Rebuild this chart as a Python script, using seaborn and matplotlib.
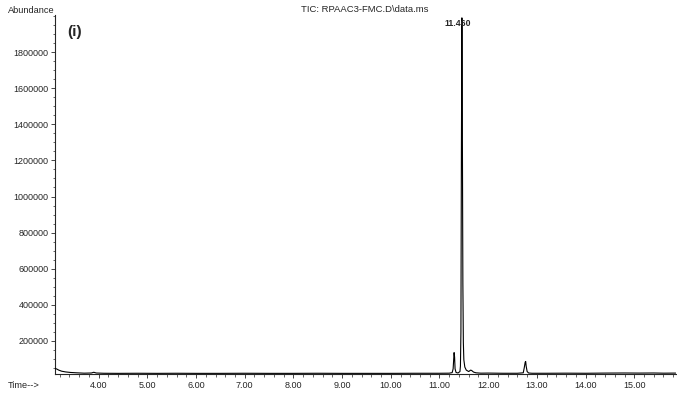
import matplotlib
matplotlib.use("Agg")
import matplotlib.pyplot as plt
import seaborn as sns
import pandas as pd
from matplotlib.ticker import MultipleLocator, FormatStrFormatter

# Retention time (min) and abundance
time = [3.10, 3.14, 3.18, 3.24, 3.32, 3.42, 3.55, 3.70, 3.85, 3.90, 3.95, 4.10,
        4.40, 4.80, 5.20, 5.60, 6.00, 6.50, 7.00, 7.50, 8.00, 8.50, 9.00, 9.50,
        10.00, 10.50, 11.00, 11.20, 11.26, 11.28, 11.30, 11.31, 11.32, 11.34,
        11.38, 11.42, 11.43, 11.44, 11.45, 11.46, 11.47, 11.48, 11.49, 11.50,
        11.52, 11.55, 11.60, 11.64, 11.66, 11.70, 11.75, 11.85, 12.00, 12.30,
        12.60, 12.72, 12.74, 12.76, 12.77, 12.78, 12.80, 12.83, 12.90, 13.20,
        13.60, 14.00, 14.40, 14.80, 15.10, 15.40, 15.60, 15.85]
abundance = [48000, 44000, 38000, 32000, 28000, 25000, 23000, 21000, 22000, 26000, 22000, 20500,
             20000, 20500, 20000, 20500, 20000, 20000, 20500, 20000, 20000, 20500, 20000, 20000,
             20000, 20500, 20500, 21000, 24000, 45000, 135000, 110000, 45000, 25000,
             22000, 30000, 60000, 250000, 1250000, 1990000, 1350000, 520000, 190000, 95000,
             55000, 38000, 30000, 38000, 36000, 27000, 23000, 21000, 21500, 20500,
             20500, 23000, 50000, 82000, 86000, 60000, 30000, 22000, 20500, 20500,
             21000, 20500, 21500, 22000, 21500, 22000, 21000, 21500]

y_ticks = [200000, 400000, 600000, 800000, 1000000, 1200000, 1400000, 1600000, 1800000]
x_ticks = [4, 5, 6, 7, 8, 9, 10, 11, 12, 13, 14, 15]

df = pd.DataFrame({"time": time, "abundance": abundance})

sns.set_style("ticks")
plt.rcParams["font.family"] = ["Liberation Sans", "DejaVu Sans"]

fig = plt.figure(figsize=(6.77, 3.99), dpi=100)
ax = fig.add_axes([0.081, 0.062, 0.917, 0.900])

sns.lineplot(data=df, x="time", y="abundance", ax=ax, color="black",
             linewidth=0.8, estimator=None, sort=False, zorder=3)

ax.set_xlim(3.1, 15.85)
ax.set_ylim(15000, 2005000)
ax.set_xticks(x_ticks)
ax.set_yticks(y_ticks)
ax.xaxis.set_major_formatter(FormatStrFormatter("%.2f"))
ax.yaxis.set_major_formatter(FormatStrFormatter("%d"))
ax.xaxis.set_minor_locator(MultipleLocator(0.2))
ax.yaxis.set_minor_locator(MultipleLocator(50000))
ax.tick_params(axis="both", which="major", labelsize=6.5, length=3, width=0.6, pad=1.5)
ax.tick_params(axis="both", which="minor", length=1.8, width=0.5)
ax.set_xlabel("")
ax.set_ylabel("")
for s in ["top", "right"]:
    ax.spines[s].set_visible(False)
for s in ["left", "bottom"]:
    ax.spines[s].set_linewidth(0.8)

fig.text(0.012, 0.962, "Abundance", fontsize=6.7, ha="left", va="bottom")
fig.text(0.012, 0.035, "Time-->", fontsize=6.7, ha="left", va="center")
fig.text(0.5395, 0.975, "TIC: RPAAC3-FMC.D\\data.ms", fontsize=6.8, ha="center", va="center")
fig.text(0.099, 0.92, "(i)", fontsize=11, fontweight="bold", ha="left", va="center")
fig.text(0.676, 0.94, "11.460", fontsize=6.3, fontweight="bold", ha="center", va="center",
         zorder=1)

fig.savefig("out.png", dpi=100)
